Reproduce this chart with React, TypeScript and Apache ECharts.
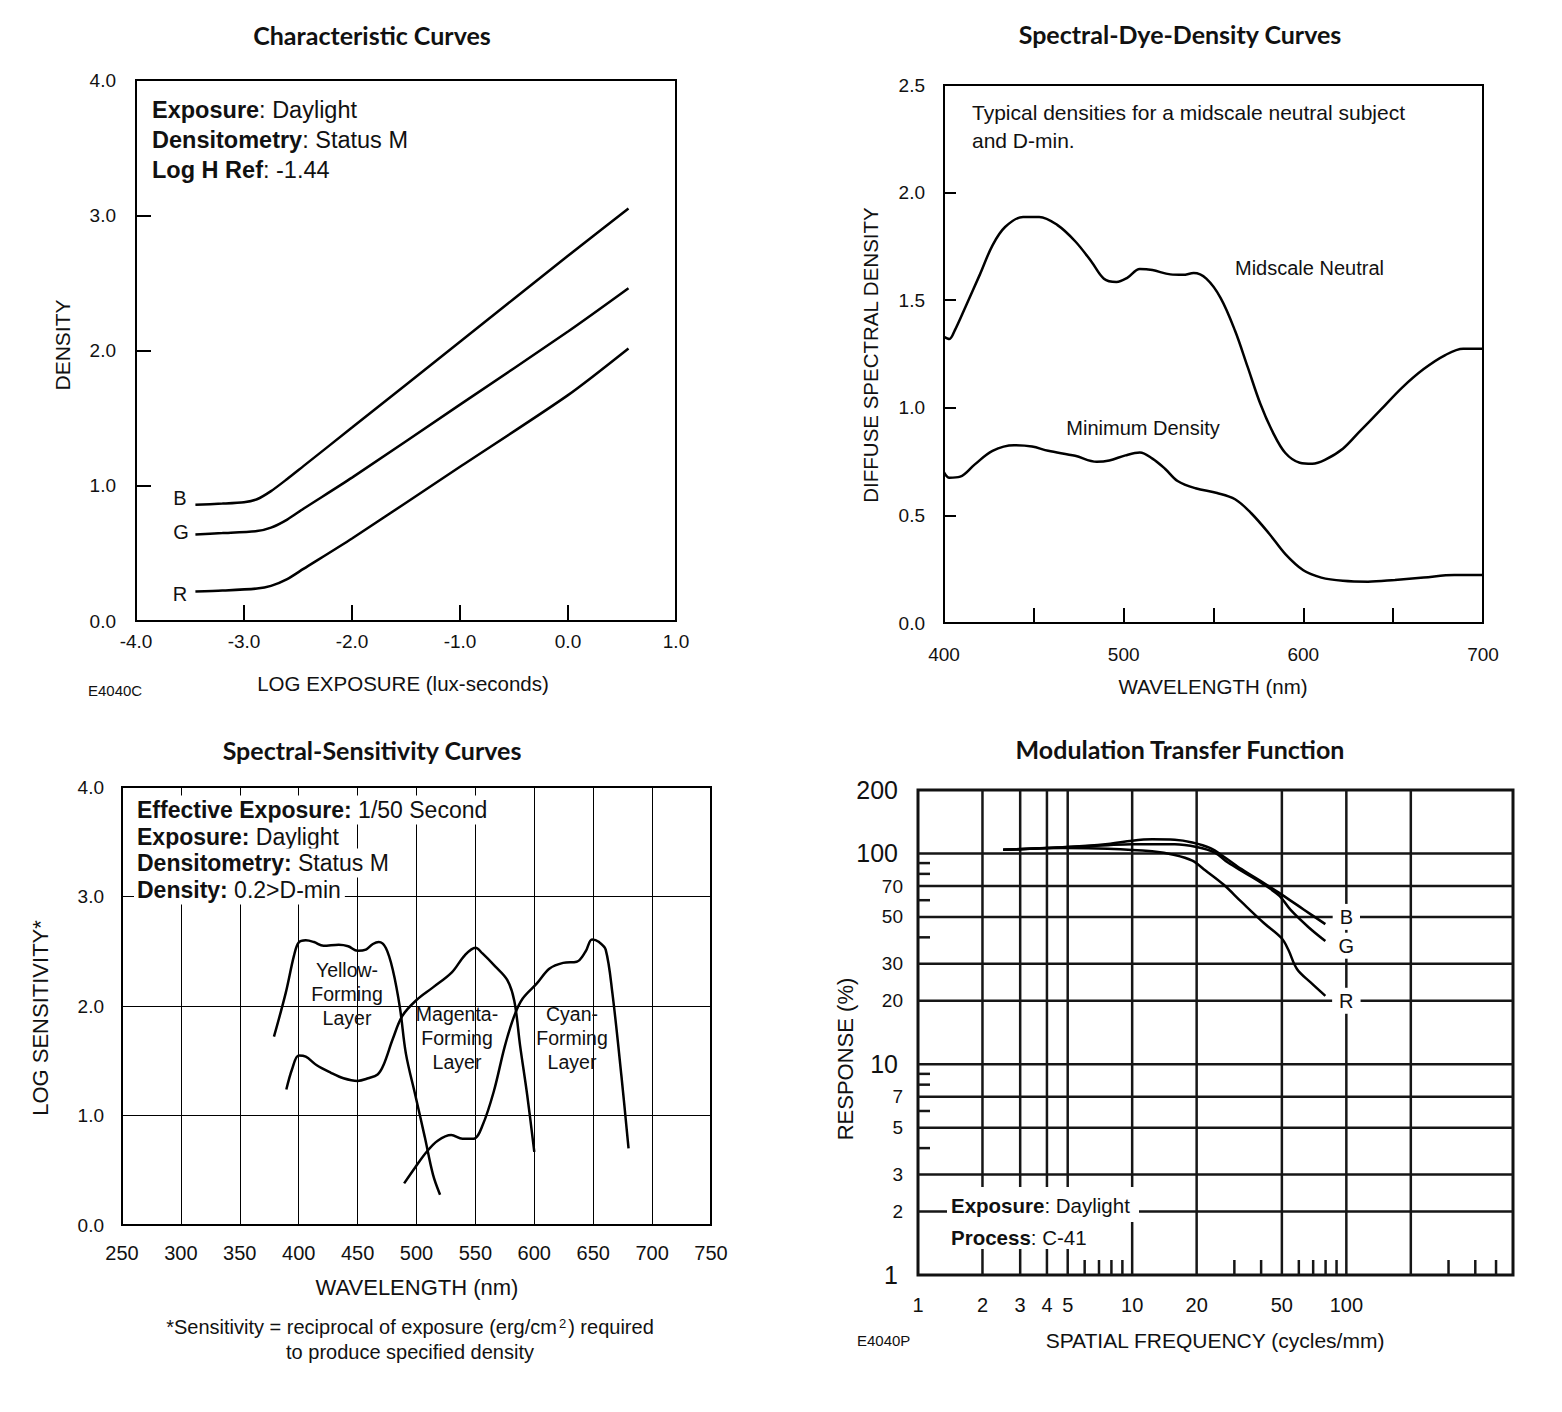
import React, { useEffect, useRef } from "react";
import * as echarts from "echarts";

const FONT = "'Liberation Sans', Arial, Helvetica, sans-serif";
const TITLE_FONT = "Lato, 'Open Sans', sans-serif";
const INK = "#111";

// ---------- Characteristic Curves (log exposure vs density) ----------
const charCurveB = [[-3.45,0.86],[-3.2,0.868],[-3.0,0.878],[-2.88,0.9],[-2.75,0.96],[-2.6,1.05],[-2.45,1.145],[-2.0,1.43],[-1.0,2.065],[0,2.70],[0.56,3.05]];
const charCurveG = [[-3.45,0.64],[-3.2,0.65],[-2.88,0.665],[-2.75,0.69],[-2.6,0.75],[-2.45,0.83],[-2.0,1.06],[-1.0,1.60],[0,2.14],[0.56,2.46]];
const charCurveR = [[-3.45,0.218],[-3.2,0.225],[-2.88,0.24],[-2.75,0.26],[-2.6,0.31],[-2.45,0.385],[-2.0,0.61],[-1.0,1.14],[0,1.67],[0.56,2.015]];

// ---------- Spectral-Dye-Density Curves ----------
const dyeMidscale = [[400,1.33],[403,1.32],[406,1.36],[412,1.47],[420,1.62],[427,1.755],[434,1.84],[444,1.887],[453,1.887],[463,1.85],[473,1.774],[482,1.68],[489,1.60],[496,1.585],[502,1.604],[509,1.645],[516,1.64],[526,1.62],[533,1.618],[539,1.626],[546,1.60],[554,1.51],[562,1.358],[569,1.19],[576,1.02],[583,0.887],[590,0.79],[598,0.745],[605,0.74],[612,0.758],[622,0.81],[631,0.887],[643,0.99],[655,1.094],[667,1.18],[679,1.245],[689,1.274],[700,1.274]];
const dyeMinimum = [[400,0.70],[403,0.675],[409,0.68],[417,0.736],[427,0.80],[439,0.826],[449,0.82],[458,0.80],[473,0.777],[485,0.749],[492,0.755],[501,0.779],[509,0.792],[516,0.764],[523,0.717],[530,0.66],[540,0.626],[552,0.604],[562,0.575],[571,0.51],[581,0.415],[590,0.32],[600,0.245],[610,0.211],[622,0.196],[636,0.192],[651,0.2],[667,0.211],[684,0.223],[700,0.223]];

// ---------- Spectral-Sensitivity Curves ----------
const sensYellow = [[379,1.72],[389,2.12],[396,2.46],[400,2.58],[406,2.60],[413,2.584],[421,2.55],[434,2.56],[442,2.546],[450,2.504],[457,2.515],[463,2.566],[468,2.584],[474,2.53],[480,2.325],[486,1.98],[491,1.565],[499,1.185],[507,0.805],[514,0.46],[520,0.276]];
const sensMagenta = [[389.5,1.237],[394.5,1.427],[400,1.547],[406,1.537],[415,1.461],[427,1.392],[438,1.34],[450,1.316],[459,1.34],[467,1.375],[472,1.461],[480,1.703],[488,1.91],[500,2.055],[514,2.17],[530,2.307],[541,2.463],[550,2.532],[556,2.48],[567,2.36],[577,2.238],[583,2.048],[588,1.634],[594,1.185],[600,0.667]];
const sensCyan = [[489.5,0.38],[499,0.528],[508.5,0.667],[518,0.77],[529.5,0.822],[539,0.788],[548.5,0.788],[556,0.908],[565.6,1.219],[575,1.634],[583,1.91],[590,2.066],[602,2.204],[613,2.342],[624.5,2.394],[636,2.404],[643.5,2.497],[649,2.608],[655,2.584],[660.6,2.515],[666.3,2.117],[674,1.357],[680,0.70]];

// ---------- Modulation Transfer Function ----------
const mtfB = [[2.5,104],[4.75,107],[7.7,110.9],[10,115],[12.4,116.7],[15.8,116.2],[19.1,112.8],[23.2,106],[26.7,96.8],[32.4,84.3],[41.2,72.3],[49.9,63.8],[63.4,54.1],[79.8,46.2]];
const mtfG = [[2.5,104],[4.75,107],[7.7,109.5],[10,110.5],[15.8,110.5],[20,107.3],[24.3,101],[28,90.5],[33.9,80.4],[41.2,71.2],[48.7,62.9],[54.8,54.1],[66.4,44.8],[79.8,38.4]];
const mtfR = [[2.5,104],[4.75,106],[7.7,105.3],[12.4,102.3],[15.8,98.4],[19.1,92.4],[22,83],[26.7,71.2],[32.4,58.9],[41.2,46.8],[49.9,39.6],[53.6,34.9],[58.8,28.3],[67.9,24.5],[79.8,21.1]];
const MTF_X_MIN = 1, MTF_X_MAX = 600, MTF_Y_MIN = 1, MTF_Y_MAX = 200;
const mtfVLines = [2, 3, 4, 5, 10, 20, 50, 100, 200];
const mtfHLines = [2, 3, 5, 7, 10, 20, 30, 50, 70, 100];
const mtfXTicks = [6, 7, 8, 9, 30, 40, 60, 70, 80, 90, 300, 400, 500];
const mtfYTicks = [4, 6, 8, 9, 40, 60, 80, 90];
const mtfXLabels = [1, 2, 3, 4, 5, 10, 20, 50, 100];
const mtfYLabels = [1, 2, 3, 5, 7, 10, 20, 30, 50, 70, 100, 200];
const mtfYBigLabels = [1, 10, 100, 200];
const mtfCurveNames = ["B", "G", "R"];
const mtfCurveLabelFreq = 100;
const mtfCurveLabelResp = [50, 36.5, 20];

function txt(x: number, y: number, text: string, opts: any = {}) {
  const size = opts.size || 18;
  const weight = opts.bold ? "bold " : "";
  return {
    type: "text",
    x,
    y,
    rotation: opts.rotation || 0,
    z: 100,
    style: {
      text,
      font: `${weight}${size}px ${opts.family || FONT}`,
      fill: INK,
      textAlign: opts.align || "left",
      align: opts.align || "left",
      textVerticalAlign: "middle",
      verticalAlign: "middle",
      ...(opts.rich ? { rich: opts.rich } : {}),
      ...(opts.bg ? { backgroundColor: "#fff", padding: opts.padding || [2, 3] } : {}),
    },
  };
}

function richAnno(x: number, y: number, bold: string, rest: string, size: number, bg = false) {
  const rich = {
    b: { fontWeight: "bold", fontSize: size, fontFamily: FONT, fill: INK, color: INK },
    n: { fontSize: size, fontFamily: FONT, fill: INK, color: INK },
  };
  return txt(x, y, `{b|${bold}}{n|${rest}}`, { size, rich, bg, padding: [3, 4, 3, 3] });
}

function lineSeries(data: number[][], idx: number, width = 2.5, smooth = 0.35) {
  return {
    type: "line",
    xAxisIndex: idx,
    yAxisIndex: idx,
    data,
    symbol: "none",
    smooth,
    lineStyle: { color: "#000", width },
    silent: true,
    z: 5,
  };
}

function mtfCustom(data: number[][], renderItem: any, z = 2) {
  return {
    type: "custom",
    coordinateSystem: "cartesian2d",
    xAxisIndex: 3,
    yAxisIndex: 3,
    data,
    encode: { x: 0, y: 1 },
    renderItem,
    silent: true,
    z,
  };
}

const GRID_INK = "#161616";

function buildOption(): any {
  const axisLabel = (extra: any = {}) => ({
    fontSize: 19,
    fontFamily: FONT,
    color: INK,
    showMinLabel: true,
    showMaxLabel: true,
    ...extra,
  });
  const inTick = (len: number) => ({ show: true, inside: true, length: len, lineStyle: { color: "#000", width: 2 } });
  const fmt1 = (v: number) => v.toFixed(1);

  const gline = (x1: number, y1: number, x2: number, y2: number, w: number) => ({
    type: "line",
    shape: { x1, y1, x2, y2 },
    style: { stroke: GRID_INK, lineWidth: w },
  });

  const footRich = {
    n: { fontSize: 20, fontFamily: FONT, fill: INK, color: INK },
    s: { fontSize: 13, fontFamily: FONT, fill: INK, color: INK, verticalAlign: "top", padding: [0, 2, 0, 2] },
  };

  const graphics: any[] = [
    // titles
    txt(372, 35, "Characteristic Curves", { bold: true, size: 25, family: TITLE_FONT, align: "center" }),
    txt(1180, 34, "Spectral-Dye-Density Curves", { bold: true, size: 25, family: TITLE_FONT, align: "center" }),
    txt(372, 750, "Spectral-Sensitivity Curves", { bold: true, size: 25, family: TITLE_FONT, align: "center" }),
    txt(1180, 749, "Modulation Transfer Function", { bold: true, size: 25, family: TITLE_FONT, align: "center" }),
    // chart 1
    richAnno(152, 110, "Exposure", ": Daylight", 23.5),
    richAnno(152, 140, "Densitometry", ": Status M", 23.5),
    richAnno(152, 170, "Log H Ref", ": -1.44", 23.5),
    txt(180, 498, "B", { size: 20, align: "center" }),
    txt(181, 532, "G", { size: 20, align: "center" }),
    txt(180, 594, "R", { size: 20, align: "center" }),
    txt(62, 345, "DENSITY", { size: 21, align: "center", rotation: Math.PI / 2 }),
    txt(403, 683, "LOG EXPOSURE (lux-seconds)", { size: 20.5, align: "center" }),
    txt(88, 690, "E4040C", { size: 15 }),
    // chart 2
    txt(972, 112, "Typical densities for a midscale neutral subject", { size: 21 }),
    txt(972, 140, "and D-min.", { size: 21 }),
    txt(1235, 268, "Midscale Neutral", { size: 20 }),
    txt(1143, 428, "Minimum Density", { size: 20, align: "center" }),
    txt(870, 355, "DIFFUSE SPECTRAL DENSITY", { size: 20.5, align: "center", rotation: Math.PI / 2 }),
    txt(1213, 686, "WAVELENGTH (nm)", { size: 20.5, align: "center" }),
    // chart 3
    richAnno(134, 810, "Effective Exposure:", " 1/50 Second", 23, true),
    richAnno(134, 837, "Exposure:", " Daylight", 23, true),
    richAnno(134, 863, "Densitometry:", " Status M", 23, true),
    richAnno(134, 890, "Density:", " 0.2>D-min", 23, true),
    txt(347, 970, "Yellow-", { size: 19.5, align: "center" }),
    txt(347, 994, "Forming", { size: 19.5, align: "center" }),
    txt(347, 1018, "Layer", { size: 19.5, align: "center" }),
    txt(457, 1014, "Magenta-", { size: 19.5, align: "center" }),
    txt(457, 1038, "Forming", { size: 19.5, align: "center" }),
    txt(457, 1062, "Layer", { size: 19.5, align: "center" }),
    txt(572, 1014, "Cyan-", { size: 19.5, align: "center" }),
    txt(572, 1038, "Forming", { size: 19.5, align: "center" }),
    txt(572, 1062, "Layer", { size: 19.5, align: "center" }),
    txt(40, 1018, "LOG SENSITIVITY*", { size: 22, align: "center", rotation: Math.PI / 2 }),
    txt(417, 1287, "WAVELENGTH (nm)", { size: 22, align: "center" }),
    txt(410, 1327, "{n|*Sensitivity = reciprocal of exposure (erg/cm}{s|2}{n|) required}", { size: 20, align: "center", rich: footRich }),
    txt(410, 1352, "to produce specified density", { size: 20, align: "center" }),
    // chart 4
    { type: "rect", z: 99, shape: { x: 947, y: 1187, width: 192, height: 35 }, style: { fill: "#fff" } },
    { type: "rect", z: 99, shape: { x: 947, y: 1222, width: 146, height: 27 }, style: { fill: "#fff" } },
    richAnno(951, 1205, "Exposure", ": Daylight", 20.5),
    richAnno(951, 1237, "Process", ": C-41", 20.5),
    txt(845, 1059, "RESPONSE (%)", { size: 22, align: "center", rotation: Math.PI / 2 }),
    txt(1215, 1340, "SPATIAL FREQUENCY (cycles/mm)", { size: 21, align: "center" }),
    txt(857, 1340, "E4040P", { size: 15 }),
  ];

  const series: any[] = [
    lineSeries(charCurveB, 0, 2.5, 0.25),
    lineSeries(charCurveG, 0, 2.5, 0.25),
    lineSeries(charCurveR, 0, 2.5, 0.25),
    lineSeries(dyeMidscale, 1),
    lineSeries(dyeMinimum, 1),
    lineSeries(sensYellow, 2),
    lineSeries(sensMagenta, 2),
    lineSeries(sensCyan, 2),
    // MTF grid
    mtfCustom(mtfVLines.map((v) => [v, MTF_Y_MIN]), (_p: any, api: any) => {
      const v = api.value(0);
      const a = api.coord([v, MTF_Y_MIN]);
      const b = api.coord([v, MTF_Y_MAX]);
      return gline(a[0], a[1], b[0], b[1], 2.5);
    }),
    mtfCustom(mtfHLines.map((v) => [MTF_X_MIN, v]), (_p: any, api: any) => {
      const v = api.value(1);
      const a = api.coord([MTF_X_MIN, v]);
      const b = api.coord([MTF_X_MAX, v]);
      return gline(a[0], a[1], b[0], b[1], 2.5);
    }),
    mtfCustom(mtfXTicks.map((v) => [v, MTF_Y_MIN]), (_p: any, api: any) => {
      const a = api.coord([api.value(0), MTF_Y_MIN]);
      return gline(a[0], a[1], a[0], a[1] - 15, 2.5);
    }),
    mtfCustom(mtfYTicks.map((v) => [MTF_X_MIN, v]), (_p: any, api: any) => {
      const a = api.coord([MTF_X_MIN, api.value(1)]);
      return gline(a[0], a[1], a[0] + 12, a[1], 2.5);
    }),
    mtfCustom(mtfXLabels.map((v) => [v, MTF_Y_MIN]), (_p: any, api: any) => {
      const v = api.value(0);
      const a = api.coord([v, MTF_Y_MIN]);
      return {
        type: "text",
        x: a[0],
        y: a[1] + 30,
        style: { text: String(v), font: `20px ${FONT}`, fill: INK, textAlign: "center", align: "center", textVerticalAlign: "middle", verticalAlign: "middle" },
      };
    }),
    mtfCustom(mtfYLabels.map((v) => [MTF_X_MIN, v]), (_p: any, api: any) => {
      const v = api.value(1);
      const a = api.coord([MTF_X_MIN, v]);
      const big = mtfYBigLabels.indexOf(v) >= 0;
      return {
        type: "text",
        x: a[0] - (big ? 20 : 15),
        y: a[1],
        style: { text: String(v), font: `${big ? 25 : 19}px ${FONT}`, fill: INK, textAlign: "right", align: "right", textVerticalAlign: "middle", verticalAlign: "middle" },
      };
    }),
    lineSeries(mtfB, 3, 2.5),
    lineSeries(mtfG, 3, 2.5),
    lineSeries(mtfR, 3, 2.5),
    mtfCustom(mtfCurveLabelResp.map((r, i) => [mtfCurveLabelFreq, r, i]), (_p: any, api: any) => {
      const a = api.coord([api.value(0), api.value(1)]);
      const name = mtfCurveNames[api.value(2)];
      return {
        type: "text",
        x: a[0],
        y: a[1],
        z2: 10,
        style: { text: name, font: `20px ${FONT}`, fill: INK, textAlign: "center", align: "center", textVerticalAlign: "middle", verticalAlign: "middle", backgroundColor: "#fff", padding: [3, 7] },
      };
    }, 6),
  ];

  return {
    animation: false,
    backgroundColor: "#fff",
    grid: [
      { left: 136, top: 80, width: 540, height: 541, show: true, borderColor: "#000", borderWidth: 2, backgroundColor: "transparent" },
      { left: 944, top: 85, width: 539, height: 538, show: true, borderColor: "#000", borderWidth: 2, backgroundColor: "transparent" },
      { left: 122, top: 787, width: 589, height: 438, show: true, borderColor: "#000", borderWidth: 2, backgroundColor: "transparent" },
      { left: 918, top: 790, width: 595, height: 485, show: true, borderColor: "#111", borderWidth: 3, backgroundColor: "transparent" },
    ],
    xAxis: [
      { gridIndex: 0, type: "value", min: -4, max: 1, interval: 1, axisLine: { show: false, onZero: false }, axisTick: inTick(16), splitLine: { show: false }, axisLabel: axisLabel({ formatter: fmt1, margin: 11 }) },
      { gridIndex: 1, type: "value", min: 400, max: 700, interval: 50, axisLine: { show: false, onZero: false }, axisTick: inTick(15), splitLine: { show: false }, axisLabel: axisLabel({ formatter: (v: number) => (v % 100 === 0 ? String(v) : ""), margin: 22 }) },
      { gridIndex: 2, type: "value", min: 250, max: 750, interval: 50, axisLine: { show: false, onZero: false }, axisTick: { show: false }, splitLine: { show: true, lineStyle: { color: "#000", width: 1 } }, axisLabel: axisLabel({ margin: 18, fontSize: 20 }) },
      { gridIndex: 3, type: "log", logBase: 10, min: MTF_X_MIN, max: MTF_X_MAX, axisLine: { show: false, onZero: false }, axisTick: { show: false }, axisLabel: { show: false }, splitLine: { show: false }, minorSplitLine: { show: false } },
    ],
    yAxis: [
      { gridIndex: 0, type: "value", min: 0, max: 4, interval: 1, axisLine: { show: false, onZero: false }, axisTick: inTick(15), splitLine: { show: false }, axisLabel: axisLabel({ formatter: fmt1, margin: 20 }) },
      { gridIndex: 1, type: "value", min: 0, max: 2.5, interval: 0.5, axisLine: { show: false, onZero: false }, axisTick: inTick(12), splitLine: { show: false }, axisLabel: axisLabel({ formatter: fmt1, margin: 19 }) },
      { gridIndex: 2, type: "value", min: 0, max: 4, interval: 1, axisLine: { show: false, onZero: false }, axisTick: { show: false }, splitLine: { show: true, lineStyle: { color: "#000", width: 1 } }, axisLabel: axisLabel({ formatter: fmt1, margin: 18 }) },
      { gridIndex: 3, type: "log", logBase: 10, min: MTF_Y_MIN, max: MTF_Y_MAX, axisLine: { show: false, onZero: false }, axisTick: { show: false }, axisLabel: { show: false }, splitLine: { show: false }, minorSplitLine: { show: false } },
    ],
    graphic: { elements: graphics },
    series,
  };
}

export default function App() {
  const ref = useRef<HTMLDivElement>(null);
  useEffect(() => {
    if (!ref.current) return;
    const chart = echarts.init(ref.current, null, { renderer: "svg" });
    chart.setOption(buildOption());
    return () => chart.dispose();
  }, []);
  return (
    <div
      ref={ref}
      style={{ position: "absolute", left: 0, top: 0, width: 1562, height: 1412, background: "#fff" }}
    />
  );
}
